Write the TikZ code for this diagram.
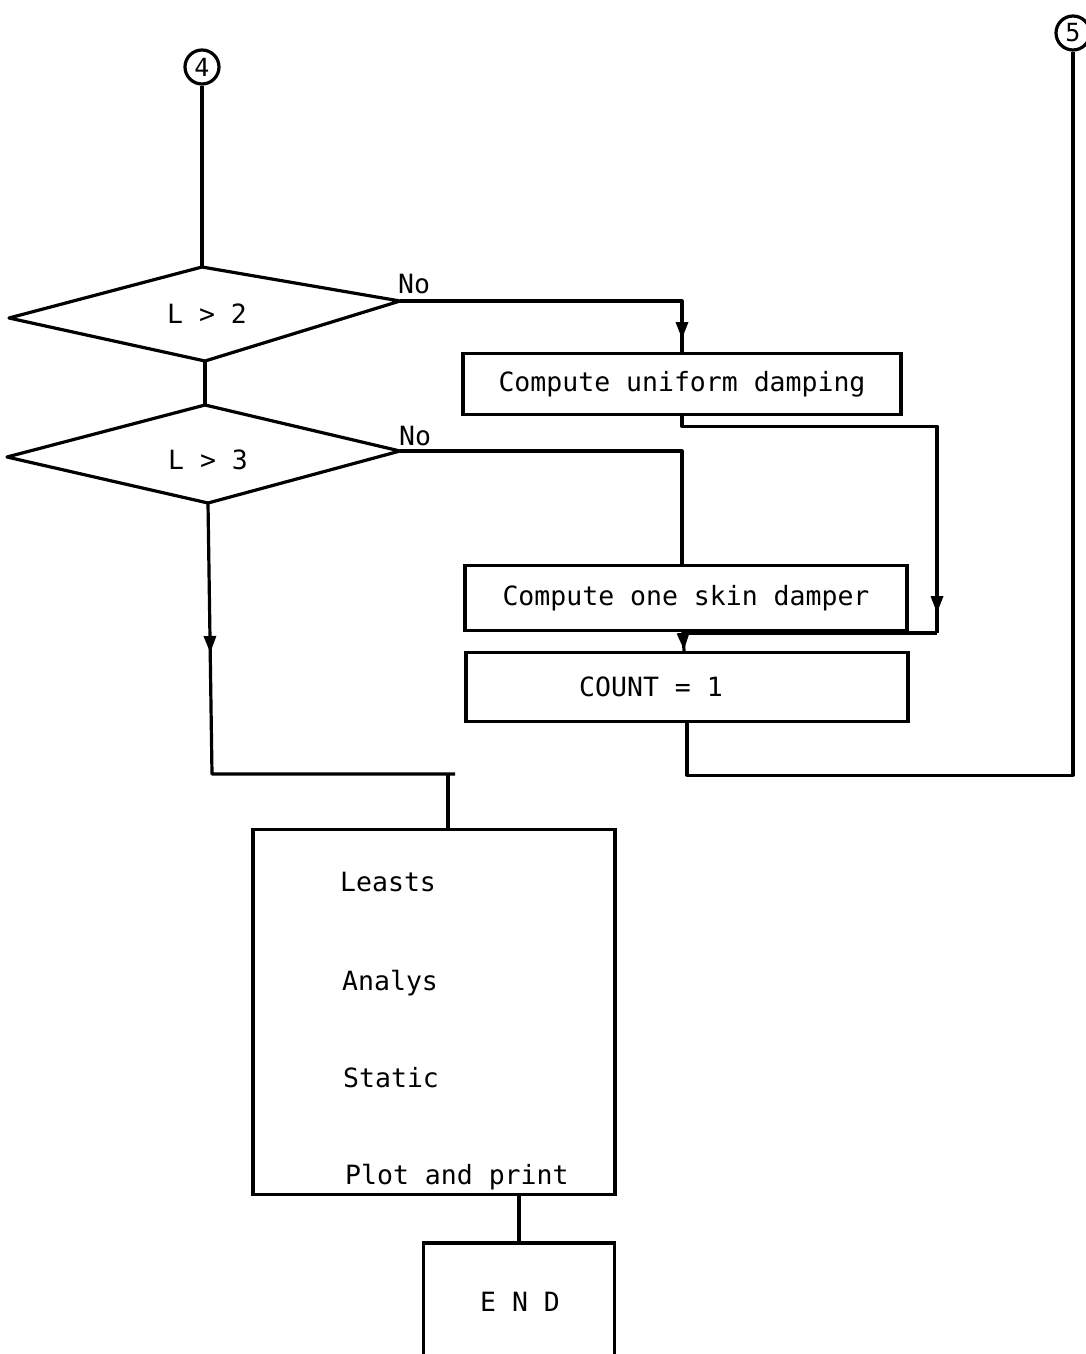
\documentclass[tikz,border=0pt]{standalone}
\usepackage{fontspec}
\setmainfont{DejaVu Sans Mono}
\usetikzlibrary{arrows.meta,decorations.markings}
\tikzset{
  tt/.style={font=\fontsize{26.5}{30}\selectfont},
  flow/.style={line width=3.2pt, line join=round},
  procbox/.style={draw, line width=3.2pt, rectangle, inner sep=0pt, tt},
  conn/.style={draw, circle, line width=3.2pt, minimum size=34pt, inner sep=0pt, font=\fontsize{25}{26}\selectfont},
  lbl/.style={inner sep=0pt, tt},
  arrowat/.style={postaction={decorate}, decoration={markings, mark=at position #1 with {\arrow{Triangle[width=12pt,length=17pt]}}}},
}
\begin{document}
\begin{tikzpicture}[x=1pt,y=-1pt]
\useasboundingbox (0,0) rectangle (1086,1354);
\clip (0,0) rectangle (1086,1354);

% connectors (off-page)
\node[conn] (c4) at (202,67) {4};
\node[conn] (c5) at (1073,33) {5};

% decision vertices
\coordinate (d1t) at (202,267);
\coordinate (d1r) at (400,301);
\coordinate (d1b) at (205,361);
\coordinate (d1l) at (9,318);
\coordinate (d2t) at (205,405);
\coordinate (d2r) at (400,451);
\coordinate (d2b) at (208,503);
\coordinate (d2l) at (7,457);
\draw[flow] (d1t) -- (d1r) -- (d1b) -- (d1l) -- cycle;
\draw[flow] (d2t) -- (d2r) -- (d2b) -- (d2l) -- cycle;
\node[lbl] (d1) at (207,314) {L > 2};
\node[lbl] (d2) at (208,460) {L > 3};
\node[lbl, anchor=base west] (no1) at (398,293) {No};
\node[lbl, anchor=base west] (no2) at (399,445) {No};

% process boxes
\node[procbox, minimum width=438pt, minimum height=61pt] (b1) at (682,384) {Compute uniform damping};
\node[procbox, minimum width=442pt, minimum height=65pt] (b2) at (686,598) {Compute one skin damper};
\node[procbox, minimum width=442pt, minimum height=69pt] (b3) at (687,687) {COUNT = 1\hspace*{72pt}};

% big box
\node[procbox, minimum width=362pt, minimum height=365pt] (bb) at (434,1012) {};
\node[lbl, anchor=base west] (t1) at (340,891) {Leasts};
\node[lbl, anchor=base west] (t2) at (342,990) {Analys};
\node[lbl, anchor=base west] (t3) at (343,1087) {Static};
\node[lbl, anchor=base west] (t4) at (345,1184) {Plot and print};

% end box
\node[procbox, minimum width=191pt, minimum height=154pt] (endb) at (519,1320) {};
\node[lbl] (endt) at (520,1302) {E N D};

% junction coordinates
\coordinate (rj) at (937,633);
\coordinate (mj) at (683,633);
\coordinate (mg) at (455,774);
\coordinate (bin) at (448,774);
\coordinate (dl) at (212,774);

% flow lines
\draw[flow] (c4.south) -- (d1t);
\draw[flow] (d1b) -- (d2t);
\draw[flow, arrowat=320pt] (d1r) -| (b1.north);
\draw[flow] (d2r) -| ([xshift=-4pt]b2.north);
\draw[flow, arrowat=452pt] (b1.south) -- ++(0,10) -| (rj);
\draw[flow] (rj) -- (mj);
\draw[flow, arrowat=0.95] ([xshift=-3pt]b2.south) -- ([xshift=-3pt]b3.north);
\draw[flow] (b3.south) -- ++(0,52) -| (c5.south);
\draw[flow, arrowat=150pt] (d2b) -- (dl) -- (mg);
\draw[flow] (bin) -- (bin |- bb.north);
\draw[flow] (endb.north) -- (endb.north |- bb.south);
\end{tikzpicture}
\end{document}
